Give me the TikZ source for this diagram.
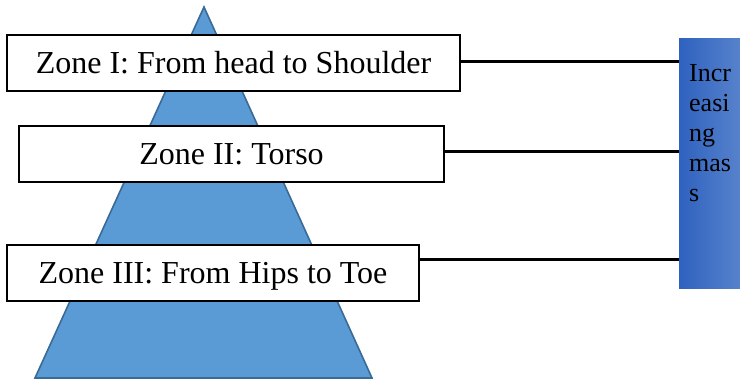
\documentclass[tikz,border=0pt]{standalone}
\usepackage{fontspec}
\setmainfont{Liberation Serif}
\definecolor{pyrfill}{HTML}{5B9BD5}
\definecolor{pyredge}{HTML}{3A6A96}
\definecolor{barleft}{HTML}{2F62BF}
\definecolor{barright}{HTML}{5A85CD}
\tikzset{
  zonebox/.style={draw=black, line width=1.7pt, fill=white, inner sep=0pt,
    font=\fontsize{32}{38}\selectfont, text height=21pt, text depth=0pt},
  link/.style={draw=black, line width=3pt},
}
\begin{document}
\begin{tikzpicture}[x=1pt,y=1pt]
\useasboundingbox (0,0) rectangle (740,-382);
% pyramid
\coordinate (apex) at (204,-7);
\coordinate (bl) at (35,-378);
\coordinate (br) at (372,-378);
\draw[fill=pyrfill, draw=pyredge, line width=1.6pt, line join=miter] (apex) -- (bl) -- (br) -- cycle;
% zone labels
\node[zonebox, minimum width=453pt, minimum height=56pt] (z1) at (233.5,-63) {Zone I: From head to Shoulder};
\node[zonebox, minimum width=425pt, minimum height=56pt] (z2) at (231.5,-154) {Zone II: Torso};
\node[zonebox, minimum width=412pt, minimum height=56pt] (z3) at (213,-273) {Zone III: From Hips to Toe};
% mass bar
\begin{scope}
\clip (0,0) rectangle (740,-382);
\node[rectangle, inner sep=0pt, minimum width=66pt, minimum height=250pt, left color=barleft, right color=barright, anchor=north west] (bar) at (679,-38) {};
\end{scope}
\node[anchor=north west, inner sep=0pt, align=left, font=\fontsize{26}{30}\selectfont] (barlabel) at (689,-64) {Incr\\easi\\ng\\mas\\s};
% connectors
\draw[link] (z1.east |- 0,-62) -- (bar.west |- 0,-62);
\draw[link] (z2.east |- 0,-152) -- (bar.west |- 0,-152);
\draw[link] (z3.east |- 0,-260) -- (bar.west |- 0,-260);
\end{tikzpicture}
\end{document}
